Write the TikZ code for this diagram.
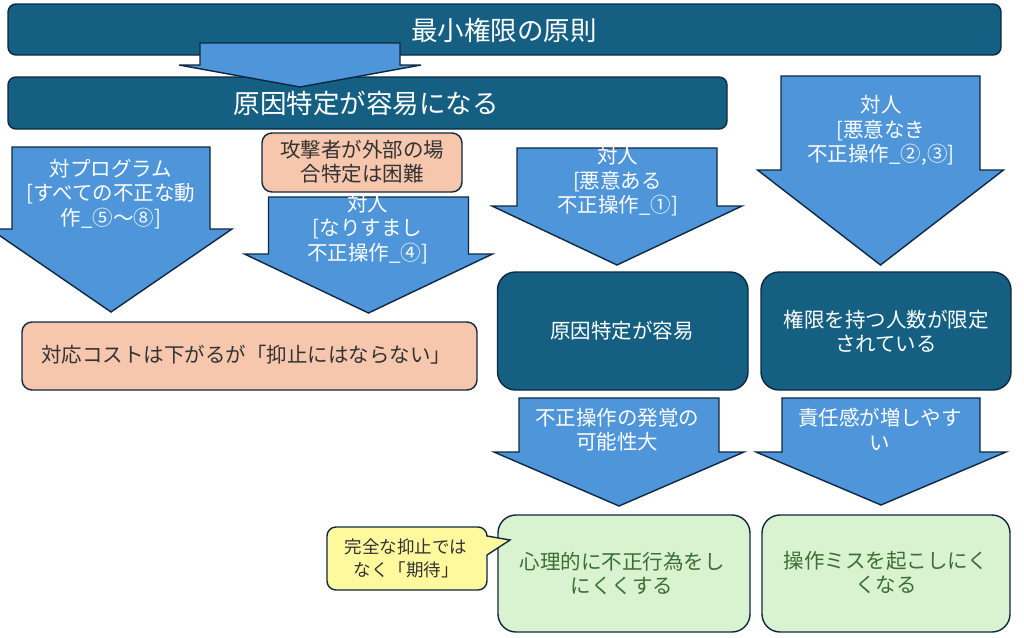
\documentclass[tikz,border=0pt]{standalone}
\usepackage{fontspec}
\newfontfamily\jp{Noto Sans CJK JP}
\definecolor{teal}{HTML}{156082}
\definecolor{edge}{HTML}{0E2841}
\definecolor{ablue}{HTML}{4E95D9}
\definecolor{salmon}{HTML}{F6C6AD}
\definecolor{lgreen}{HTML}{D9F2D0}
\definecolor{gtext}{HTML}{3B6E35}
\definecolor{lyellow}{HTML}{FFF99E}
\definecolor{dtext}{HTML}{333333}
\tikzset{
  darkbar/.style={draw=edge, line width=1.4pt, fill=teal, rounded corners=8pt},
  darkbox/.style={draw=edge, line width=1.4pt, fill=teal, rounded corners=18pt},
  salbox/.style={draw=edge, line width=1.4pt, fill=salmon, rounded corners=10pt},
  greenbox/.style={draw=edge, line width=1.4pt, fill=lgreen, rounded corners=18pt},
  yellowbox/.style={draw=edge, line width=1.4pt, fill=lyellow},
  barrow/.style={draw=edge, line width=1.4pt, fill=ablue, line join=miter},
  txt/.style={font=\jp\fontsize{20.5}{24.5}\selectfont, align=center, inner sep=0pt},
  wtxt/.style={txt, text=white},
  bigtxt/.style={font=\jp\fontsize{26.5}{30}\selectfont, text=white, inner sep=0pt},
}
% \barrowpath{cx}{ytop}{shaft half}{yhead}{head half}{ytip}
\newcommand{\barrowpath}[6]{%
  \draw[barrow] ({#1-#3},#2) -- ({#1+#3},#2) -- ({#1+#3},#4) -- ({#1+#5},#4)
    -- (#1,#6) -- ({#1-#5},#4) -- ({#1-#3},#4) -- cycle;}
\begin{document}
\begin{tikzpicture}[x=1pt,y=-1pt]
\useasboundingbox (0,0) rectangle (1024,637);
\clip (0,0) rectangle (1024,637);

% top bars
\draw[darkbar] (8,4) rectangle (1001,55);
\node[bigtxt] (title) at (504,30) {最小権限の原則};
\draw[darkbar] (8,77) rectangle (727,129);
\node[bigtxt] (cause) at (366,103) {原因特定が容易になる};
\barrowpath{300}{43}{100}{65}{121}{87}

% left arrow
\barrowpath{111}{147}{99}{229}{121}{312}
\node[wtxt] (a1) at (111,194) {対プログラム\\{[}すべての不正な動\\作\_⑤〜⑧]};

% orange callout and arrow 2
\draw[salbox] (262,133) rectangle (462,192);
\node[txt, text=dtext] (ext) at (362,161.5) {攻撃者が外部の場\\合特定は困難};
\barrowpath{368.5}{197}{100}{254}{124}{313}
\node[wtxt] (a2) at (367.5,229) {対人\\{[}なりすまし\\不正操作\_④]};

% arrow 3 and 4
\barrowpath{617}{148}{100}{206}{125}{265}
\node[wtxt] (a3) at (617.5,181.5) {対人\\{[}悪意ある\\不正操作\_①]};
\barrowpath{880.5}{76}{99.5}{170}{123}{265}
\node[wtxt] (a4) at (881,130.5) {対人\\{[}悪意なき\\不正操作\_②,③]};

% wide orange box
\draw[salbox] (22,322) rectangle (477,390);
\node[txt, text=dtext] (cost) at (246,355) {対応コストは下がるが「抑止にはならない」};

% dark boxes
\draw[darkbox] (497.5,272) rectangle (748,390);
\node[wtxt] (d1) at (622,331) {原因特定が容易};
\draw[darkbox] (761,272) rectangle (1011,390);
\node[wtxt] (d2) at (886,331.5) {権限を持つ人数が限定\\されている};

% bottom arrows
\barrowpath{619}{398}{100}{452}{125}{506}
\node[wtxt] (a5) at (617,429.5) {不正操作の発覚の\\可能性大};
\barrowpath{881}{398}{99}{452}{125}{505}
\node[wtxt] (a6) at (880,429.5) {責任感が増しやす\\い};

% green boxes
\draw[greenbox] (498,515) rectangle (750,632);
\node[txt, text=gtext] (g1) at (622,573.5) {心理的に不正行為をし\\にくくする};
\draw[greenbox] (762,515) rectangle (1010,632);
\node[txt, text=gtext] (g2) at (886,572.5) {操作ミスを起こしにく\\くなる};

% yellow callout
\draw[yellowbox, rounded corners=9pt] (327,527) -- (487,527) [sharp corners] -- (487,536) -- (510,540) -- (487,555) [rounded corners=9pt] -- (487,590) -- (327,590) -- cycle;
\node[txt, text=dtext, font=\jp\fontsize{17.5}{23}\selectfont] (yc) at (406,558.5) {完全な抑止では\\なく「期待」};
\end{tikzpicture}
\end{document}
